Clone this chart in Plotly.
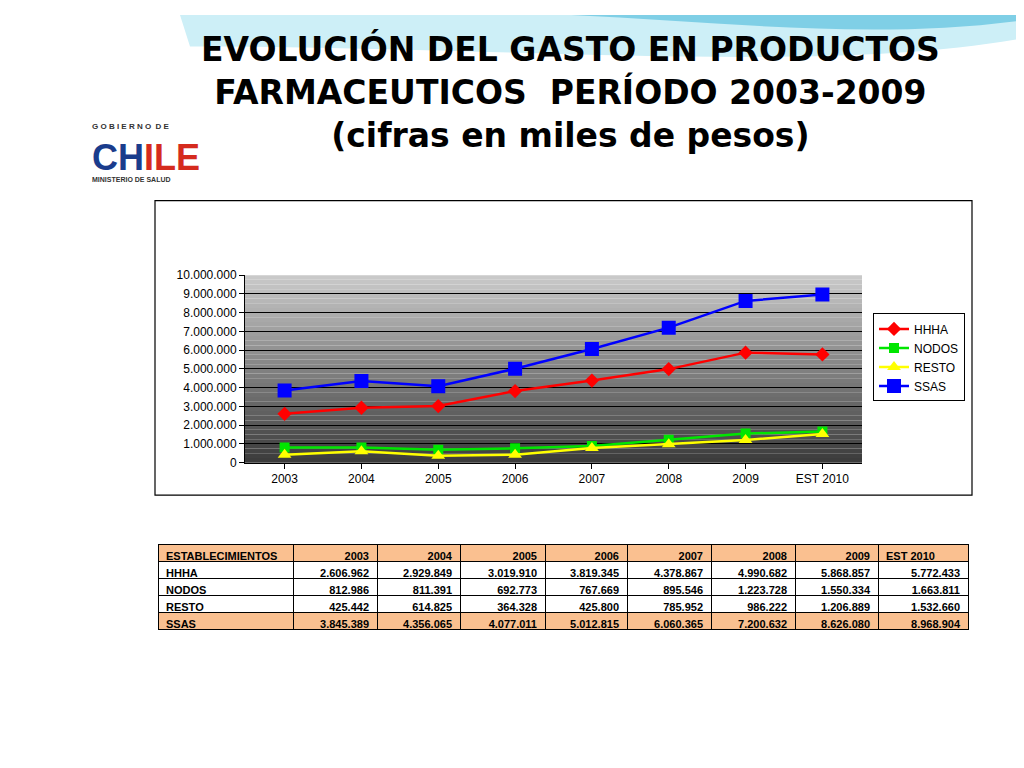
import plotly.graph_objects as go

categories = ["2003", "2004", "2005", "2006", "2007", "2008", "2009", "EST 2010"]
hhha = [2606962, 2929849, 3019910, 3819345, 4378867, 4990682, 5868857, 5772433]
nodos = [812986, 811391, 692773, 767669, 895546, 1223728, 1550334, 1663811]
resto = [425442, 614825, 364328, 425800, 785952, 986222, 1206889, 1532660]
ssas = [3845389, 4356065, 4077011, 5012815, 6060365, 7200632, 8626080, 8968904]
series_names = ["HHHA", "NODOS", "RESTO", "SSAS"]

OFF = 8
def px(x):
    return (x - OFF) / 1024
def py(y):
    return 1 - (y - OFF) / 768

def fmt(v):
    return f"{v:,}".replace(",", ".")

fig = go.Figure()
styles = {
    "HHHA": dict(color="#FF0000", symbol="diamond", size=11),
    "NODOS": dict(color="#00E600", symbol="square", size=10),
    "RESTO": dict(color="#FFFF00", symbol="triangle-up", size=12),
    "SSAS": dict(color="#0000FF", symbol="square", size=14),
}
for name, vals in zip(series_names, [hhha, nodos, resto, ssas]):
    s = styles[name]
    fig.add_trace(go.Scatter(x=categories, y=vals, name=name, mode="lines+markers",
                             line=dict(color=s["color"], width=2.5),
                             marker=dict(color=s["color"], symbol=s["symbol"], size=s["size"]),
                             xaxis="x", yaxis="y"))

header = ["ESTABLECIMIENTOS"] + categories
cols = [series_names] + [[fmt(v[i]) for v in [hhha, nodos, resto, ssas]] for i in range(len(categories))]
peach = "#FAC090"
row_fill = [peach if n == "SSAS" else "white" for n in series_names]
tfont = dict(family="Liberation Sans, Arial", size=11, color="black", weight="bold")
fig.add_trace(go.Table(
    domain=dict(x=[px(158), px(968)], y=[py(650), py(547)]),
    columnwidth=[135, 84, 83, 85, 82, 84, 84, 83, 90],
    header=dict(values=header, fill_color=peach, line_color="black", height=17,
                align=["left"] + ["right"] * 7 + ["left"], font=tfont),
    cells=dict(values=cols, fill_color=[row_fill] * 9, line_color="black", height=17,
               align=["left"] + ["right"] * 8, font=tfont),
))

shapes = []
n = 40
for i in range(n):
    t = i / n
    g = int(205 - 145 * (1 - t))
    shapes.append(dict(type="rect", xref="x domain", yref="y domain", x0=0, x1=1,
                       y0=t, y1=(i + 1) / n, fillcolor=f"rgb({g},{g},{g})", line_width=0, layer="below"))
shapes.append(dict(type="rect", xref="paper", yref="paper", x0=px(155), x1=px(972),
                   y0=py(497), y1=py(197), line=dict(color="black", width=1.2)))
shapes.append(dict(type="path", xref="paper", yref="paper",
                   path=f"M {px(180)},1 L 1,1 L 1,{py(30)} C 0.8,{py(70)} 0.5,{py(40)} {px(190)},{py(40)} Z",
                   fillcolor="#CDEFF7", line_width=0, layer="below"))
shapes.append(dict(type="path", xref="paper", yref="paper",
                   path=f"M 0.55,1 L 1,1 L 1,{py(12)} C 0.85,{py(35)} 0.7,{py(15)} 0.55,1 Z",
                   fillcolor="#7FCFE6", line_width=0, layer="below"))

ann = [
    dict(text="<b>EVOLUCIÓN DEL GASTO EN PRODUCTOS<br>FARMACEUTICOS  PERÍODO 2003-2009<br>(cifras en miles de pesos)</b>",
         x=px(570), y=py(20), xref="paper", yref="paper", showarrow=False, yanchor="top",
         font=dict(family="DejaVu Sans", size=33, color="black"), align="center"),
    dict(text="<b>G O B I E R N O  D E</b>", x=px(90), y=py(128), xref="paper", yref="paper", showarrow=False,
         yanchor="bottom", font=dict(family="Liberation Sans, Arial", size=8, color="#333")),
    dict(text="<b><span style='color:#1A3C8C'>CH</span><span style='color:#D52B1E'>ILE</span></b>", x=px(90), y=py(153),
         xref="paper", yref="paper", showarrow=False, yanchor="middle",
         font=dict(family="Liberation Sans, Arial", size=36, color="#1A3C8C")),
    dict(text="<b>MINISTERIO DE SALUD</b>", x=px(90), y=py(176), xref="paper", yref="paper", showarrow=False,
         yanchor="middle", font=dict(family="Liberation Sans, Arial", size=7, color="#333")),
]

fig.update_layout(
    width=1024, height=768, margin=dict(l=0, r=0, t=0, b=0),
    paper_bgcolor="white", plot_bgcolor="rgba(0,0,0,0)",
    separators=",.",
    xaxis=dict(domain=[px(245), px(862)], type="category", showgrid=False,
               ticks="outside", tickcolor="black", showline=True, linecolor="black",
               tickfont=dict(family="Liberation Sans, Arial", size=12, color="black")),
    yaxis=dict(domain=[py(464), py(273)], range=[0, 10000000], dtick=1000000,
               tickformat=",d", gridcolor="black", gridwidth=1, showline=True, linecolor="black",
               ticks="outside", tickcolor="black", zeroline=False,
               tickfont=dict(family="Liberation Sans, Arial", size=12, color="black")),
    legend=dict(x=px(873), y=py(312), xanchor="left", yanchor="top",
                bordercolor="black", borderwidth=1, bgcolor="white",
                font=dict(family="Liberation Sans, Arial", size=12, color="black")),
    shapes=shapes, annotations=ann,
)
fig.write_html("out.html")
